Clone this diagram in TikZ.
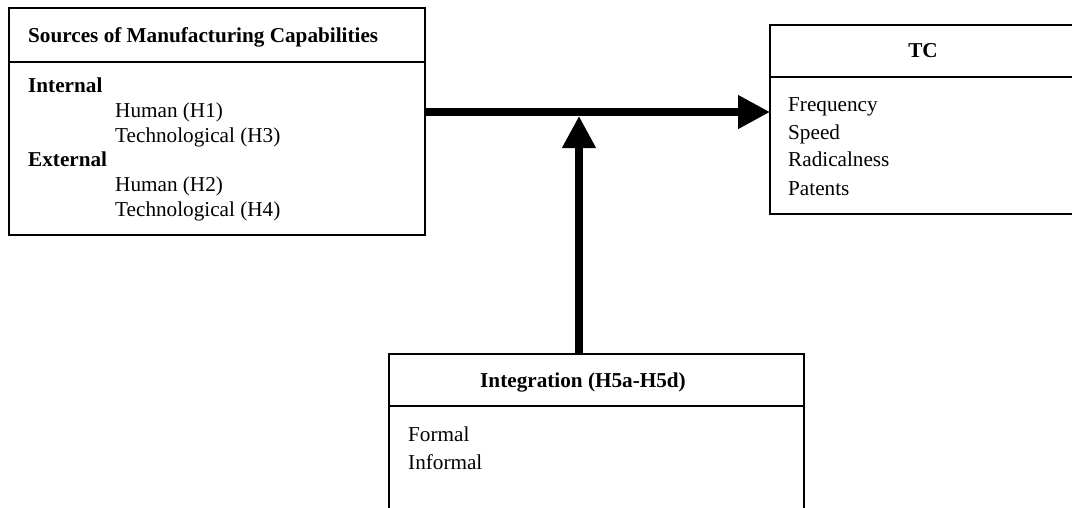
\documentclass[tikz,border=0pt]{standalone}
\usepackage{fontspec}
\setmainfont{Liberation Serif}
\usetikzlibrary{arrows.meta}
\begin{document}
\begin{tikzpicture}[x=1pt,y=-1pt,
  box/.style={draw=black,line width=1.4pt,inner sep=0pt,outer sep=0pt},
  txt/.style={anchor=base west,inner sep=0pt,font=\fontsize{21.2}{25}\selectfont},
  btxt/.style={anchor=base west,inner sep=0pt,font=\fontsize{21.2}{25}\selectfont\bfseries},
  ttl/.style={anchor=base,inner sep=0pt,font=\fontsize{21.2}{25}\selectfont\bfseries},
  bigarrow/.style={line width=7.5pt,-{Triangle[length=32pt,width=32pt]}}]
\useasboundingbox (0,0) rectangle (1072,507);
\clip (0,0) rectangle (1072,507);
% boxes
\node[box,minimum width=416pt,minimum height=227pt] (src) at (217,121.5) {};
\draw[line width=1.4pt] (src.west |- 0,62) -- (src.east |- 0,62);
\node[box,minimum width=306pt,minimum height=189pt] (tc) at (923,119.5) {};
\draw[line width=1.4pt] (tc.west |- 0,77) -- (tc.east |- 0,77);
\node[box,minimum width=415pt,minimum height=200pt] (integ) at (596.5,454) {};
\draw[line width=1.4pt] (integ.west |- 0,406) -- (integ.east |- 0,406);
% titles
\node[btxt] (srct) at (28,42) {Sources of Manufacturing Capabilities};
\node[ttl] (tct) at (923,57) {TC};
\node[ttl] (intt) at (583,387) {Integration (H5a-H5d)};
% left box lines
\node[btxt] (l1) at (28,92.5) {Internal};
\node[txt] (l2) at (115,117.3) {Human (H1)};
\node[txt] (l3) at (115,142) {Technological (H3)};
\node[btxt] (l4) at (28,166.8) {External};
\node[txt] (l5) at (115,191.6) {Human (H2)};
\node[txt] (l6) at (115,216.4) {Technological (H4)};
% TC lines
\node[txt] (t1) at (788,111.7) {Frequency};
\node[txt] (t2) at (788,139.3) {Speed};
\node[txt] (t3) at (788,166.7) {Radicalness};
\node[txt] (t4) at (788,195) {Patents};
% Integration lines
\node[txt] (i1) at (408,441.7) {Formal};
\node[txt] (i2) at (408,469) {Informal};
% arrows
\coordinate (vtip) at (579,116);
\draw[bigarrow] (src.east |- 0,112) -- (tc.west |- 0,112);
\draw[bigarrow] (integ.north -| vtip) -- (vtip);
\end{tikzpicture}
\end{document}
